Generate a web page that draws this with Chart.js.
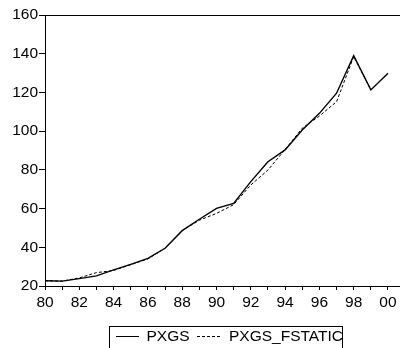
<!DOCTYPE html>
<html><head><meta charset="utf-8">
<script src="https://cdn.jsdelivr.net/npm/chart.js@4.4.1/dist/chart.umd.min.js"></script>
<style>html,body{margin:0;padding:0;background:#fff}#wrap{width:400px;height:348px}</style>
</head><body><div id="wrap"><canvas id="c" width="400" height="348"></canvas></div>
<script>
const years = [80,81,82,83,84,85,86,87,88,89,90,91,92,93,94,95,96,97,98,99,0];
const pxgs = [22.7,22.5,23.8,25.2,28.3,31.2,34.3,39.5,48.6,54.5,60.1,62.7,73.9,84.2,90.3,100.6,109.2,119.6,139.0,121.3,129.9];
const pxgsFstatic = [22.7,22.5,24.2,26.9,28.0,31.0,34.0,39.5,48.6,54.0,57.5,62.0,72.2,79.9,90.5,101.5,107.8,115.2,138.5,121.3,129.9];
const yTicks = [20,40,60,80,100,120,140,160];
const seriesNames = ['PXGS','PXGS_FSTATIC'];

const FONT = {family:'"Liberation Sans", Arial, sans-serif', size:15.5};
const toPts = arr => arr.map((v,i)=>({x:i, y:v}));

const frame = {
  id:'frame',
  afterDraw(chart){
    const {ctx, chartArea:a} = chart;
    ctx.save();
    ctx.strokeStyle='#000'; ctx.lineWidth=1;
    ctx.beginPath(); ctx.moveTo(a.left, a.top+0.5); ctx.lineTo(400, a.top+0.5); ctx.stroke();
    // legend
    ctx.strokeRect(109.5, 326.5, 233, 30);
    ctx.beginPath(); ctx.moveTo(116, 336.5); ctx.lineTo(139, 336.5); ctx.stroke();
    ctx.setLineDash([3,2]);
    ctx.beginPath(); ctx.moveTo(197, 336.5); ctx.lineTo(220, 336.5); ctx.stroke();
    ctx.setLineDash([]);
    ctx.fillStyle='#000';
    ctx.font = '15.5px "Liberation Sans", Arial, sans-serif';
    ctx.textBaseline='middle';
    ctx.fillText(seriesNames[0], 146.5, 336.5);
    ctx.fillText(seriesNames[1], 229, 336.5);
    ctx.restore();
  }
};

new Chart(document.getElementById('c'), {
  type:'line',
  data:{datasets:[
    {label:seriesNames[0], data:toPts(pxgs), borderColor:'#000', borderWidth:1.4, pointRadius:0, tension:0, fill:false},
    {label:seriesNames[1], data:toPts(pxgsFstatic), borderColor:'#000', borderWidth:1, borderDash:[3,2], pointRadius:0, tension:0, fill:false}
  ]},
  options:{
    responsive:false, animation:false,
    layout:{padding:{left:0,right:0,top:15,bottom:38}},
    plugins:{legend:{display:false}, tooltip:{enabled:false}},
    scales:{
      x:{type:'linear', min:0, max:20.7,
        afterBuildTicks(s){ s.ticks = years.map((y,i)=>({value:i})); },
        afterFit(s){ s.height = 24; },
        ticks:{color:'#000', font:FONT, padding:3, maxRotation:0, autoSkip:false,
          callback(v){ const y = years[v]; return (v%2===0) ? String(y).padStart(2,'0') : ''; }},
        grid:{drawOnChartArea:false, drawTicks:true, tickLength:4, color:'#000'},
        border:{display:true, color:'#000', width:1}
      },
      y:{min:20, max:160,
        afterBuildTicks(s){ s.ticks = yTicks.map(v=>({value:v})); },
        afterFit(s){ s.width = 45; },
        ticks:{color:'#000', font:FONT, padding:1},
        grid:{drawOnChartArea:false, drawTicks:true, tickLength:6, color:'#000'},
        border:{display:true, color:'#000', width:1}
      }
    }
  },
  plugins:[frame]
});
</script></body></html>
